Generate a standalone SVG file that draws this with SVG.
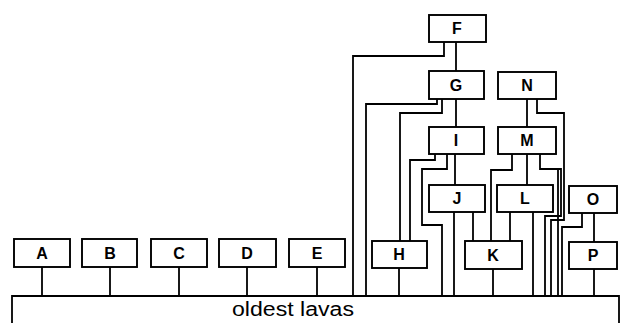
<svg xmlns="http://www.w3.org/2000/svg" width="622" height="323" viewBox="0 0 622 323">
  <style>
    .box { fill: #fff; stroke: #000; stroke-width: 1.9; }
    .lbl { font-family: "Liberation Sans", Arial, sans-serif; font-size: 16px; font-weight: bold; text-anchor: middle; fill: #000; }
    .ln { fill: none; stroke: #000; stroke-width: 1.8; stroke-linejoin: miter; }
    .base { font-family: "Liberation Sans", Arial, sans-serif; font-size: 20px; fill: #000; }
  </style>
  <rect width="622" height="323" fill="#fff"/>

  <!-- connectors -->
  <g id="connectors" class="ln">
    <path d="M42,267 V296"/>
    <path d="M110,267 V296"/>
    <path d="M179,267 V296"/>
    <path d="M247,267 V296"/>
    <path d="M317,267 V296"/>
    <path d="M444,42 V56 H353 V296"/>
    <path d="M456,42 V71"/>
    <path d="M437,99 V104 H366 V296"/>
    <path d="M442,99 V113 H400 V241"/>
    <path d="M456,99 V127"/>
    <path d="M435,154 V160 H410 V241"/>
    <path d="M447,154 V169 H422 V225 H442 V296"/>
    <path d="M455,154 V185"/>
    <path d="M454,212 V296"/>
    <path d="M473,212 V241"/>
    <path d="M399,268 V296"/>
    <path d="M493,269 V296"/>
    <path d="M527,99 V127"/>
    <path d="M537,99 V113 H564 V220 H551 V296"/>
    <path d="M512,154 V170 H491 V241"/>
    <path d="M527,154 V185"/>
    <path d="M540,154 V169 H561 V216 H545 V296"/>
    <path d="M558,169 V296"/>
    <path d="M510,212 V241"/>
    <path d="M533,212 V296"/>
    <path d="M582,213 V227 H562 V296"/>
    <path d="M594,213 V242"/>
    <path d="M594,269 V296"/>
  </g>

  <!-- base unit -->
  <g id="oldest-lavas">
    <path class="ln" d="M12,323 V296 H619 V323"/>
    <text class="base" x="232" y="316" textLength="122" lengthAdjust="spacingAndGlyphs">oldest lavas</text>
  </g>

  <g id="A"><rect class="box" x="14" y="239" width="56" height="28"/><text class="lbl" x="42" y="259">A</text></g>
  <g id="B"><rect class="box" x="82" y="239" width="55" height="28"/><text class="lbl" x="110" y="259">B</text></g>
  <g id="C"><rect class="box" x="151" y="239" width="56" height="28"/><text class="lbl" x="179" y="259">C</text></g>
  <g id="D"><rect class="box" x="219" y="239" width="57" height="28"/><text class="lbl" x="247" y="259">D</text></g>
  <g id="E"><rect class="box" x="289" y="239" width="56" height="28"/><text class="lbl" x="317" y="259">E</text></g>
  <g id="F"><rect class="box" x="429" y="15" width="57" height="27"/><text class="lbl" x="457" y="34">F</text></g>
  <g id="G"><rect class="box" x="429" y="71" width="55" height="28"/><text class="lbl" x="456" y="91">G</text></g>
  <g id="N"><rect class="box" x="498" y="72" width="58" height="27"/><text class="lbl" x="527" y="91">N</text></g>
  <g id="I"><rect class="box" x="429" y="127" width="55" height="27"/><text class="lbl" x="456" y="146">I</text></g>
  <g id="M"><rect class="box" x="498" y="127" width="58" height="27"/><text class="lbl" x="527" y="146">M</text></g>
  <g id="J"><rect class="box" x="429" y="185" width="56" height="27"/><text class="lbl" x="457" y="204">J</text></g>
  <g id="L"><rect class="box" x="497" y="185" width="56" height="27"/><text class="lbl" x="525" y="204">L</text></g>
  <g id="O"><rect class="box" x="569" y="186" width="48" height="27"/><text class="lbl" x="593" y="205">O</text></g>
  <g id="H"><rect class="box" x="372" y="241" width="55" height="27"/><text class="lbl" x="399" y="260">H</text></g>
  <g id="K"><rect class="box" x="465" y="241" width="57" height="28"/><text class="lbl" x="493" y="261">K</text></g>
  <g id="P"><rect class="box" x="569" y="242" width="48" height="27"/><text class="lbl" x="593" y="261">P</text></g>
</svg>
